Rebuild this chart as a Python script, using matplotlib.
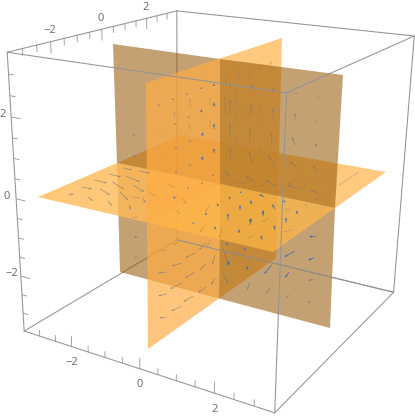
import numpy as np
import matplotlib
matplotlib.use("Agg")
import matplotlib.pyplot as plt
from matplotlib.patches import Polygon

# box corners as seen on the image (u, v, z) -> pixel
box_corners = {
    (-3.5, -3.5, 3.5): (6.5, 52), (3.5, -3.5, 3.5): (286, 93),
    (3.5, 3.5, 3.5): (414, 36), (-3.5, 3.5, 3.5): (178, 11),
    (-3.5, -3.5, -3.5): (25, 331), (3.5, -3.5, -3.5): (275, 413),
    (3.5, 3.5, -3.5): (394, 292), (-3.5, 3.5, -3.5): (176, 240),
}

major_ticks = [-2, 0, 2]
tick_values = [-3, -2.5, -2, -1.5, -1, -0.5, 0, 0.5, 1, 1.5, 2, 2.5, 3]
tick_labels = ["\u22122", "0", "2"]

center = (220, 184)
# plane outlines, corner then edge midpoint going round
horizontal_plane = [(38, 197), (147, 222.5), (273, 252), (335, 208), (386, 172), (279, 153), (181, 135), (117, 163)]
slice_plane = [(148, 349), (219, 298.5), (276, 258), (279, 153), (282, 38), (220, 58.5), (146, 83), (147, 222.5)]
back_plane = [(120, 272), (219, 298.5), (330, 328), (335, 208), (343, 75), (220, 59), (113, 44), (117, 163)]
# far part of the horizontal plane, cut where it passes behind the slice
horizontal_back_left = [(117, 163), (181, 135), (220, 142), (220, 184)]
horizontal_back_right = [(220, 142), (279, 153), (220, 184)]
horizontal_right_inner = [(220, 184), (279, 153), (278, 196)]
horizontal_right_outer = [(279, 153), (386, 172), (335, 208), (278, 196)]

# arrows: tail x, tail y, head x, head y
blue_arrows = [
    (201, 89, 201, 87), (214, 86, 214, 83), (187, 95, 187, 93), (173, 100, 173, 98), (159, 106, 159, 104),
    (214, 107, 214, 102), (201, 112, 202, 109), (189, 118, 189, 116), (175, 125, 175, 123), (160, 130, 160, 129),
    (214, 129, 214, 123), (202, 136, 203, 132), (190, 142, 190, 140), (176, 149, 176, 147), (161, 155, 161, 154),
    (214, 153, 214, 148), (202, 160, 203, 156), (190, 166, 190, 164), (176, 173, 176, 171), (135, 156, 133, 156),
    (230, 199, 229, 196), (241, 193, 240, 191), (252, 204, 250, 200), (218, 206, 217, 203), (206, 215, 206, 212),
    (193, 224, 193, 222), (228, 220, 228, 213), (240, 210, 240, 205), (251, 223, 251, 218), (239, 233, 239, 229),
    (215, 229, 215, 226), (227, 245, 227, 242), (245, 250, 244, 247), (228, 260, 229, 266), (248, 266, 246, 270),
    (264, 197, 259, 194), (285, 202, 283, 200), (275, 209, 272, 204), (263, 215, 263, 210), (297, 214, 297, 210),
    (286, 223, 286, 217), (275, 230, 274, 225), (262, 240, 261, 235), (250, 225, 250, 218), (263, 216, 263, 210),
    (295, 251, 284, 257), (272, 265, 264, 274), (289, 272, 285, 278), (316, 236, 309, 237), (314, 258, 308, 260),
    (213, 176, 213, 174), (202, 184, 202, 182), (188, 189, 188, 187), (175, 198, 173, 196), (306, 205, 305, 204),
]
gray_arrows = [
    (230, 115, 230, 100), (251, 115, 251, 104), (273, 118, 273, 108), (230, 138, 230, 123), (250, 142, 250, 127),
    (272, 143, 271, 132), (230, 158, 230, 147), (252, 163, 249, 151), (275, 166, 268, 155), (230, 88, 230, 82),
    (251, 89, 251, 84), (273, 92, 273, 88), (295, 121, 295, 113), (295, 145, 292, 137), (317, 147, 315, 143),
    (230, 177, 225, 171), (254, 182, 246, 176), (276, 186, 265, 180), (297, 167, 289, 161), (317, 170, 313, 166),
    (299, 189, 287, 185), (318, 193, 310, 190), (250, 282, 247, 290), (270, 288, 266, 294), (289, 295, 286, 298),
    (313, 279, 308, 281), (310, 301, 308, 303), (223, 248, 228, 265), (223, 273, 228, 283),
    (134, 237, 138, 237), (135, 257, 137, 257), (133, 135, 136, 135), (317, 122, 317, 120), (318, 98, 318, 96),
    (296, 94, 296, 92), (68, 195, 74, 194), (88, 197, 93, 201), (108, 201, 112, 206), (82, 187, 92, 189),
    (100, 189, 110, 195), (120, 192, 128, 200), (129, 205, 131, 210), (94, 180, 107, 183), (112, 182, 124, 189),
    (133, 185, 144, 192), (142, 198, 146, 203), (109, 174, 121, 177), (126, 176, 140, 182), (123, 168, 132, 170),
    (139, 171, 150, 173),
    (166, 317, 159, 318), (182, 306, 171, 311), (193, 296, 183, 302), (206, 287, 198, 293), (215, 278, 211, 285),
    (167, 294, 158, 296), (182, 283, 170, 289), (195, 272, 185, 278), (206, 264, 200, 270), (215, 255, 212, 265),
    (166, 272, 158, 273), (182, 263, 172, 266), (195, 253, 185, 258), (206, 243, 199, 250),
]
faint_arrows = [
    (226, 85, 226, 77), (238, 80, 239, 71), (249, 77, 250, 68), (260, 70, 262, 64), (270, 65, 271, 61),
    (225, 113, 225, 97), (237, 107, 237, 91), (249, 117, 246, 110), (262, 113, 257, 107), (240, 123, 235, 113),
    (262, 128, 257, 123), (240, 145, 235, 137), (262, 155, 258, 147), (190, 107, 190, 98), (210, 127, 210, 120),
    (210, 105, 210, 97), (190, 130, 189, 123), (175, 118, 174, 112), (304, 173, 287, 185), (322, 168, 300, 190),
    (335, 173, 322, 183), (359, 172, 339, 185), (334, 190, 315, 200), (250, 182, 234, 183), (264, 185, 252, 187),
    (287, 189, 275, 193), (132, 197, 140, 198), (132, 218, 138, 217), (285, 209, 290, 210), (293, 230, 283, 232),
    (167, 183, 175, 188), (182, 198, 187, 204), (150, 192, 156, 197), (160, 250, 167, 250), (178, 242, 173, 245),
    (210, 205, 205, 212), (205, 225, 200, 232), (270, 218, 262, 222), (255, 235, 248, 238), (237, 249, 239, 253),
    (248, 259, 251, 262), (232, 252, 234, 258), (210, 240, 207, 247), (222, 228, 219, 238), (175, 210, 180, 214),
]


def fit_projection(corners):
    # plain DLT, 3D box coordinates to image pixels
    rows, rhs = [], []
    for (u, v, z), (px, py) in corners.items():
        rows.append([u, v, z, 1, 0, 0, 0, 0, -px * u, -px * v, -px * z])
        rows.append([0, 0, 0, 0, u, v, z, 1, -py * u, -py * v, -py * z])
        rhs += [px, py]
    p = np.linalg.lstsq(np.array(rows), np.array(rhs, dtype=float), rcond=None)[0]
    return np.append(p, 1.0).reshape(3, 4)


proj = fit_projection(box_corners)


def to_px(u, v, z):
    q = proj @ np.array([u, v, z, 1.0])
    return q[0] / q[2], q[1] / q[2]


def quadrant(outline, i):
    # i-th quarter of a plane outline: corner plus its two edge midpoints and the center
    return [outline[(2 * i - 1) % 8], outline[2 * i], outline[2 * i + 1], center]


def seg(ax, a, b, color="#939393", lw=0.75, z=1):
    ax.plot([a[0], b[0]], [a[1], b[1]], color=color, lw=lw, zorder=z, solid_capstyle="round")


fig = plt.figure(figsize=(4.15, 4.16), dpi=100)
ax = fig.add_axes([0, 0, 1, 1])
ax.set_xlim(0, 415)
ax.set_ylim(416, 0)
ax.axis("off")

# edges behind the planes
a = 3.5
seg(ax, to_px(-a, a, a), to_px(-a, a, -a), z=1)
seg(ax, to_px(-a, a, -a), to_px(-a, -a, -a), z=1)
seg(ax, to_px(-a, a, -a), to_px(a, a, -a), z=1)

far_orange = ((1.0, 0.58, 0.0), 0.5)
thin_orange = ((1.0, 0.58, 0.0), 0.15)
brown = ((0.585, 0.33, 0.0), 0.55)
left_orange = ("#ffba56", 0.8)
near_orange = ("#ffad45", 0.7)
front_orange = ("#ffb847", 0.7)

# back to front, quadrant() corner order:
# horizontal 0=left 1=front, slice 0=near bottom 1=far bottom 2=far top 3=near top
# back plane 0=left bottom 1=right bottom 2=right top 3=left top
order = [
    (horizontal_back_left, far_orange), (quadrant(slice_plane, 1), far_orange), (quadrant(slice_plane, 2), far_orange),
    (horizontal_back_right, thin_orange), (horizontal_right_inner, thin_orange), (horizontal_right_outer, far_orange),
    (quadrant(back_plane, 0), brown), (quadrant(back_plane, 3), brown),
    (quadrant(back_plane, 1), brown), (quadrant(back_plane, 2), brown),
    (quadrant(horizontal_plane, 0), left_orange), (quadrant(slice_plane, 0), near_orange),
    (quadrant(slice_plane, 3), near_orange), (quadrant(horizontal_plane, 1), front_orange),
]
for n, (points, (col, al)) in enumerate(order):
    ax.add_patch(Polygon(points, closed=True, facecolor=col, edgecolor="none", alpha=al, zorder=2 + n * 0.01))


def draw_arrows(arrows, color, width, al):
    arr = np.array(arrows, dtype=float)
    ax.quiver(arr[:, 0], arr[:, 1], arr[:, 2] - arr[:, 0], arr[:, 3] - arr[:, 1], color=color, alpha=al,
              angles="xy", scale_units="xy", scale=1, units="xy", width=width,
              headwidth=3.2, headlength=4.5, headaxislength=4, minlength=0.5, zorder=3)


draw_arrows(faint_arrows, "#8a7a60", 0.6, 0.5)
draw_arrows(gray_arrows, "#6f7278", 0.65, 0.7)
draw_arrows(blue_arrows, "#3f6bb0", 0.75, 0.95)

# front edges
for p, q in [((-a, -a, a), (a, -a, a)), ((a, -a, a), (a, a, a)), ((a, a, a), (-a, a, a)), ((-a, a, a), (-a, -a, a)),
             ((-a, -a, a), (-a, -a, -a)), ((a, -a, a), (a, -a, -a)), ((a, a, a), (a, a, -a)),
             ((-a, -a, -a), (a, -a, -a)), ((a, -a, -a), (a, a, -a)), ((a, a, -a), (-a, a, -a))]:
    seg(ax, to_px(*p), to_px(*q), z=4)

for t in tick_values:
    ln = 0.28 if t in major_ticks else 0.16
    seg(ax, to_px(t, -a, -a), to_px(t, -a, -a + ln), lw=0.6, z=4)
    seg(ax, to_px(-a, t, a), to_px(-a, t, a - ln), lw=0.6, z=4)
    seg(ax, to_px(-a, -a, t), to_px(-a + ln, -a, t), lw=0.6, z=4)

for t, label in zip(major_ticks, tick_labels):
    x, y = to_px(t, -a, -a)
    ax.text(x, y + 16, label, ha="center", va="center", fontsize=8, color="#666666", family="Open Sans")
    x, y = to_px(-a, t, a)
    ax.text(x - 1, y - 11, label, ha="center", va="center", fontsize=8, color="#666666", family="Open Sans")
    x, y = to_px(-a, -a, t)
    ax.text(x - 9, y - 2, label, ha="center", va="center", fontsize=8, color="#666666", family="Open Sans")

fig.savefig("out.png", dpi=100)
